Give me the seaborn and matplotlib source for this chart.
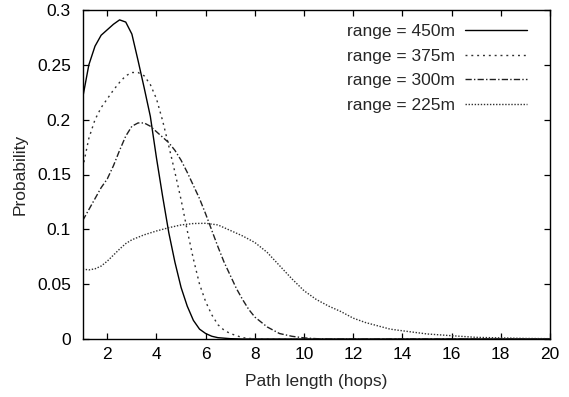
import matplotlib
matplotlib.use("Agg")
import matplotlib.pyplot as plt
import seaborn as sns
import pandas as pd

# ---- data ----
x_450 = [1, 1.25, 1.5, 1.75, 2, 2.25, 2.5, 2.75, 3, 3.25, 3.5, 3.75, 4, 4.25, 4.5,
         4.75, 5, 5.25, 5.5, 5.75, 6, 6.25, 6.5, 7, 7.5, 10, 20]
p_450 = [0.220, 0.250, 0.267, 0.277, 0.282, 0.287, 0.291, 0.289, 0.278, 0.254, 0.229,
         0.203, 0.165, 0.130, 0.097, 0.070, 0.047, 0.030, 0.017, 0.009, 0.005, 0.0025,
         0.0012, 0.0003, 0.0, 0.0, 0.0]

x_375 = [1, 1.25, 1.5, 1.75, 2, 2.25, 2.5, 2.75, 3, 3.25, 3.5, 3.75, 4, 4.25, 4.5,
         4.75, 5, 5.25, 5.5, 5.75, 6, 6.25, 6.5, 6.75, 7, 7.5, 8, 10, 20]
p_375 = [0.156, 0.183, 0.200, 0.211, 0.219, 0.227, 0.234, 0.240, 0.243, 0.243, 0.240,
         0.232, 0.219, 0.199, 0.176, 0.152, 0.127, 0.099, 0.073, 0.050, 0.034, 0.022,
         0.013, 0.008, 0.005, 0.0012, 0.0, 0.0, 0.0]

x_300 = [1, 1.25, 1.5, 1.75, 2, 2.25, 2.5, 2.75, 3, 3.25, 3.5, 3.75, 4, 4.25, 4.5,
         4.75, 5, 5.25, 5.5, 5.75, 6, 6.25, 6.5, 6.75, 7, 7.25, 7.5, 7.75, 8, 8.5, 9,
         9.5, 10, 10.5, 11, 20]
p_300 = [0.108, 0.118, 0.128, 0.138, 0.146, 0.158, 0.172, 0.185, 0.194, 0.197, 0.197,
         0.194, 0.189, 0.184, 0.179, 0.172, 0.163, 0.152, 0.140, 0.128, 0.114, 0.099,
         0.084, 0.070, 0.058, 0.046, 0.036, 0.027, 0.020, 0.011, 0.005, 0.0025, 0.001,
         0.0003, 0.0, 0.0]

x_225 = [1, 1.25, 1.5, 1.75, 2, 2.25, 2.5, 2.75, 3, 3.5, 4, 4.5, 5, 5.5, 6, 6.5, 7,
         7.5, 8, 8.5, 9, 9.5, 10, 10.5, 11, 11.5, 12, 12.5, 13, 13.5, 14, 15, 16, 17,
         18, 19, 20]
p_225 = [0.0638, 0.063, 0.064, 0.0665, 0.071, 0.0765, 0.082, 0.087, 0.0905, 0.095,
         0.0985, 0.1015, 0.104, 0.1053, 0.1055, 0.104, 0.099, 0.094, 0.088, 0.079,
         0.067, 0.055, 0.044, 0.036, 0.030, 0.025, 0.019, 0.015, 0.012, 0.009, 0.0075,
         0.0046, 0.003, 0.0015, 0.001, 0.0005, 0.0003]

labels = ["range = 450m", "range = 375m", "range = 300m", "range = 225m"]
x_ticks = [2, 4, 6, 8, 10, 12, 14, 16, 18, 20]
y_ticks = [0, 0.05, 0.1, 0.15, 0.2, 0.25, 0.3]
y_tick_labels = ["0", "0.05", "0.1", "0.15", "0.2", "0.25", "0.3"]

series = [(x_450, p_450), (x_375, p_375), (x_300, p_300), (x_225, p_225)]
styles = ["-", (0, (1.4, 2.8)), (0, (4.5, 1.6, 1.0, 1.6)), (0, (1.0, 1.2))]
colors = ["#000000", "#303030", "#202020", "#303030"]

sns.set_style("ticks")
plt.rcParams["font.family"] = ["Liberation Sans", "DejaVu Sans"]
plt.rcParams["font.size"] = 12.5

fig = plt.figure(figsize=(5.69, 3.97), dpi=100)
ax = fig.add_axes([82.7 / 569, 1 - 339 / 397, (550 - 82.7) / 569, (339 - 10) / 397])

for (xs, ps), lab, ls, c in zip(series, labels, styles, colors):
    df = pd.DataFrame({"hops": xs, "prob": ps})
    sns.lineplot(data=df, x="hops", y="prob", ax=ax, color=c, linewidth=1.0,
                 linestyle=ls, label=lab)

ax.set_xlim(1, 20)
ax.set_ylim(0, 0.3)
ax.set_xticks(x_ticks)
ax.set_yticks(y_ticks)
ax.set_yticklabels(y_tick_labels)
ax.tick_params(direction="in", length=4, width=0.9, top=True, right=True,
               labelsize=12.5, colors="black")
ax.tick_params(axis="x", pad=6)
ax.tick_params(axis="y", pad=8.5)
for s in ax.spines.values():
    s.set_linewidth(1.0)
    s.set_color("black")
ax.set_xlabel("Path length (hops)", fontsize=12.5)
ax.set_ylabel("Probability", fontsize=12.5)
ax.xaxis.set_label_coords(0.5, -0.105)
ax.yaxis.set_label_coords(-0.117, 0.5)

leg = ax.legend(loc="upper right", frameon=False, markerfirst=False,
                handlelength=3.6, handletextpad=0.6, labelspacing=0.55,
                borderaxespad=0.4, fontsize=12.5, bbox_to_anchor=(0.9815, 1.0))

fig.savefig("out.png", dpi=100)
